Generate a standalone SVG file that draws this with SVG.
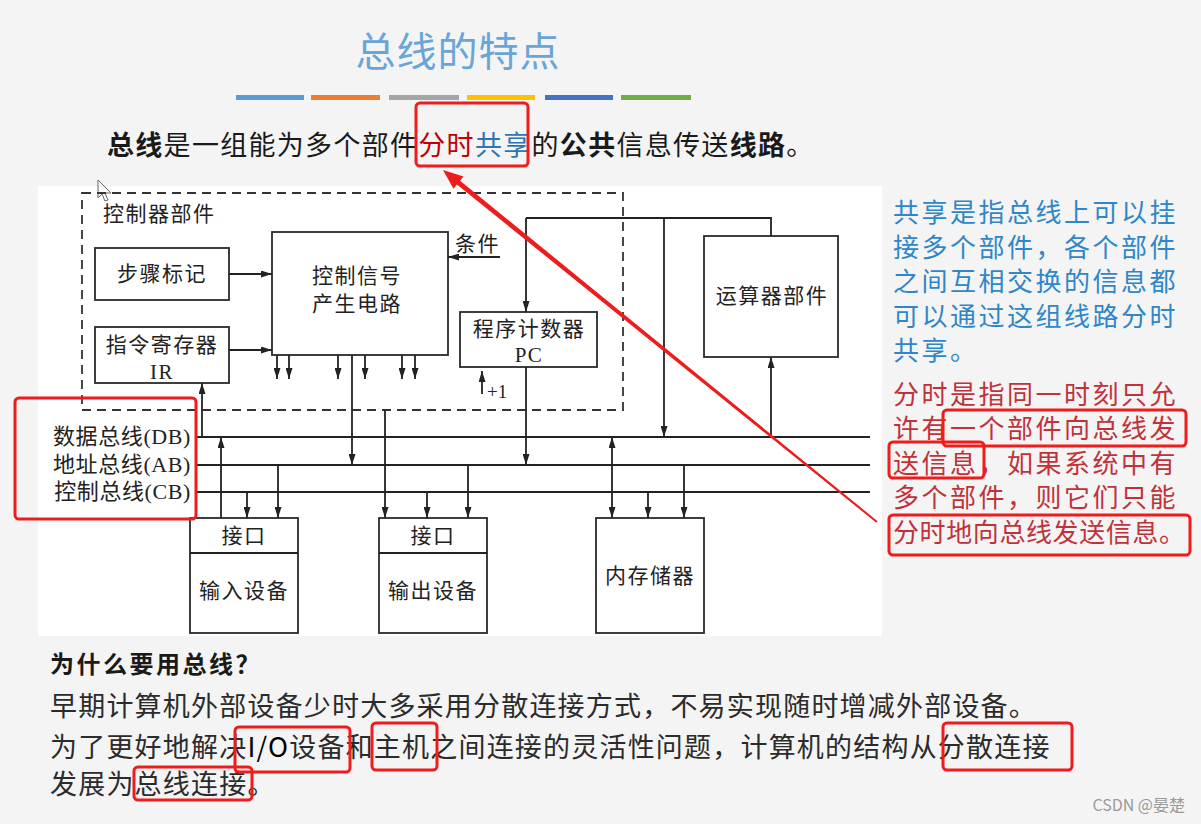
<svg xmlns="http://www.w3.org/2000/svg" width="1201" height="824" viewBox="0 0 1201 824">
<style>
.bx{fill:#fff;stroke:#2a2a2a;stroke-width:1.8}
.ln{stroke:#222;stroke-width:1.8;fill:none}
.bus{stroke:#222;stroke-width:2.2;fill:none}
.ar{marker-end:url(#ah)}
.dt{font-family:"Liberation Serif","Noto Sans CJK SC",serif;font-size:21px;fill:#222;letter-spacing:1.5px}
.rb{fill:none;stroke:#f01c1c;stroke-width:3}
.cn{font-family:"Noto Sans CJK SC","Liberation Sans",sans-serif}
.bt{font-family:"Noto Sans CJK SC","Liberation Sans",sans-serif;font-size:27px;fill:#2b2b2b;letter-spacing:1.2px}
.rt{font-family:"Noto Sans CJK SC","Liberation Sans",sans-serif;font-size:26px;letter-spacing:2.5px}
</style>
<defs>
<marker id="ah" markerWidth="11" markerHeight="7" refX="11" refY="3.5" orient="auto-start-reverse" markerUnits="userSpaceOnUse">
<path d="M0,0 L11,3.5 L0,7 Z" fill="#222"/>
</marker>
</defs>
<rect x="0" y="0" width="1201" height="824" fill="#f4f4f4"/>
<rect x="38" y="186" width="844" height="450" fill="#ffffff"/>

<g id="title">
<text x="458" y="66" text-anchor="middle" class="cn" font-size="40" fill="#6aa5d8" letter-spacing="1">总线的特点</text>
<rect x="236" y="95" width="68" height="5" fill="#5b9bd5"/>
<rect x="311" y="95" width="69" height="5" fill="#ed7d31"/>
<rect x="389" y="95" width="70" height="5" fill="#a5a5a5"/>
<rect x="467" y="95" width="68" height="5" fill="#ffc000"/>
<rect x="545" y="95" width="68" height="5" fill="#4472c4"/>
<rect x="621" y="95" width="70" height="5" fill="#70ad47"/>
</g>

<g id="definition">
<text x="107" y="155" class="cn" font-size="27" fill="#1a1a1a" letter-spacing="1.3"><tspan font-weight="bold">总线</tspan>是一组能为多个部件<tspan fill="#c00000">分时</tspan><tspan fill="#2e75b6">共享</tspan>的<tspan font-weight="bold">公共</tspan>信息传送<tspan font-weight="bold">线路</tspan>。</text>
<rect x="416" y="103" width="112" height="63" rx="4" class="rb"/>
</g>

<polygon points="98,180 98,198 102,194 105,201 108,200 105,193 111,193" fill="#fff" stroke="#666" stroke-width="1"/>

<g id="controller">
<rect x="82" y="193" width="541" height="217" fill="none" stroke="#333" stroke-width="1.8" stroke-dasharray="9,6"/>
<text x="103" y="221" class="dt">控制器部件</text>
</g>

<g id="step">
<rect x="95" y="248" width="134" height="52" class="bx"/>
<text x="162" y="281" text-anchor="middle" class="dt">步骤标记</text>
</g>
<g id="ir">
<rect x="95" y="327" width="134" height="56" class="bx"/>
<text x="162" y="352" text-anchor="middle" class="dt">指令寄存器</text>
<text x="162" y="379" text-anchor="middle" class="dt">IR</text>
</g>
<g id="ctrl">
<rect x="272" y="232" width="176" height="123" class="bx"/>
<text x="357" y="283" text-anchor="middle" class="dt">控制信号</text>
<text x="357" y="311" text-anchor="middle" class="dt">产生电路</text>
</g>
<g id="pc">
<rect x="460" y="312" width="137" height="55" class="bx"/>
<text x="529" y="336" text-anchor="middle" class="dt">程序计数器</text>
<text x="529" y="362" text-anchor="middle" class="dt">PC</text>
</g>
<g id="alu">
<rect x="704" y="236" width="134" height="121" class="bx"/>
<text x="772" y="303" text-anchor="middle" class="dt">运算器部件</text>
</g>
<g id="input">
<rect x="190" y="518" width="108" height="115" class="bx"/>
<line x1="190" y1="553" x2="298" y2="553" class="ln"/>
<text x="244" y="543" text-anchor="middle" class="dt">接口</text>
<text x="244" y="598" text-anchor="middle" class="dt">输入设备</text>
</g>
<g id="output">
<rect x="379" y="518" width="108" height="115" class="bx"/>
<line x1="379" y1="553" x2="487" y2="553" class="ln"/>
<text x="433" y="543" text-anchor="middle" class="dt">接口</text>
<text x="433" y="598" text-anchor="middle" class="dt">输出设备</text>
</g>
<g id="memory">
<rect x="596" y="518" width="108" height="115" class="bx"/>
<text x="650" y="583" text-anchor="middle" class="dt">内存储器</text>
</g>

<g id="buses">
<line x1="195" y1="437" x2="870" y2="437" class="bus"/>
<line x1="195" y1="465" x2="870" y2="465" class="bus"/>
<line x1="195" y1="492" x2="870" y2="492" class="bus"/>
<text x="191" y="444" text-anchor="end" class="dt" style="font-size:22px;letter-spacing:0.6px">数据总线(DB)</text>
<text x="191" y="472" text-anchor="end" class="dt" style="font-size:22px;letter-spacing:0.6px">地址总线(AB)</text>
<text x="191" y="499" text-anchor="end" class="dt" style="font-size:22px;letter-spacing:0.6px">控制总线(CB)</text>
<rect x="15" y="398" width="181" height="121" rx="4" class="rb"/>
</g>

<g id="connectors">
<path d="M229,274 H272" class="ln ar"/>
<path d="M229,350 H272" class="ln ar"/>
<path d="M500,257 H448" class="ln ar"/>
<text x="455" y="251" class="dt">条件</text>
<path d="M277,355 V379" class="ln ar"/>
<path d="M289,355 V379" class="ln ar"/>
<path d="M338,355 V379" class="ln ar"/>
<path d="M365,355 V379" class="ln ar"/>
<path d="M402,355 V379" class="ln ar"/>
<path d="M415,355 V379" class="ln ar"/>
<path d="M352,355 V465" class="ln ar"/>
<path d="M202,437 V383" class="ln ar"/>
<path d="M221,518 V437" class="ln ar"/>
<path d="M247,492 V518" class="ln ar"/>
<path d="M278,465 V518" class="ln ar"/>
<path d="M385,410 V518" class="ln ar"/>
<path d="M427,492 V518" class="ln ar"/>
<path d="M468,465 V518" class="ln ar"/>
<path d="M526,367 V465" class="ln ar"/>
<path d="M526,218 V312" class="ln ar"/>
<path d="M526,218 H771 V236" class="ln"/>
<path d="M664,218 V437" class="ln ar"/>
<path d="M771,437 V357" class="ln ar"/>
<path d="M482,394 V371" class="ln ar"/>
<text x="487" y="398" class="dt" style="font-size:19px;letter-spacing:0">+1</text>
<path d="M612,437 V518" class="ln ar" marker-start="url(#ah)"/>
<path d="M648,492 V518" class="ln ar"/>
<path d="M684,465 V518" class="ln ar"/>
</g>

<g id="notes">
<text class="rt" fill="#2f86c8">
<tspan x="893" y="222">共享是指总线上可以挂</tspan>
<tspan x="893" y="257">接多个部件，各个部件</tspan>
<tspan x="893" y="291">之间互相交换的信息都</tspan>
<tspan x="893" y="326">可以通过这组线路分时</tspan>
<tspan x="893" y="360">共享。</tspan>
</text>
<text class="rt" fill="#c0323a">
<tspan x="893" y="404">分时是指同一时刻只允</tspan>
<tspan x="893" y="438">许有一个部件向总线发</tspan>
<tspan x="893" y="473">送信息，如果系统中有</tspan>
<tspan x="893" y="507">多个部件，则它们只能</tspan>
</text>
<text x="893" y="542" class="rt" fill="#c0323a" style="letter-spacing:0.6px">分时地向总线发送信息。</text>
<rect x="943" y="410" width="243" height="36" rx="4" class="rb"/>
<rect x="889" y="442" width="95" height="36" rx="4" class="rb"/>
<rect x="889" y="515" width="301" height="40" rx="4" class="rb"/>
</g>

<polygon points="443,170 463.5,176.4 460.1,180.7 877.6,521.2 876.4,522.8 456.9,184.5 453.5,188.8" fill="#ee1c1c"/>

<g id="why">
<text x="50" y="673" class="cn" font-size="24" font-weight="bold" fill="#1a1a1a" letter-spacing="2.5">为什么要用总线？</text>
<text x="50" y="716" class="bt">早期计算机外部设备少时大多采用分散连接方式，不易实现随时增减外部设备。</text>
<text x="50" y="757" class="bt">为了更好地解决<tspan fill="#000">I/O</tspan>设备和主机之间连接的灵活性问题，计算机的结构从分散连接</text>
<text x="50" y="794" class="bt">发展为总线连接。</text>
<rect x="235" y="727" width="115" height="45" rx="4" class="rb"/>
<rect x="372" y="723" width="65" height="47" rx="4" class="rb"/>
<rect x="943" y="723" width="129" height="47" rx="4" class="rb"/>
<rect x="134" y="767" width="118" height="33" rx="4" class="rb"/>
</g>

<text x="1185" y="811" text-anchor="end" class="cn" font-size="16" fill="#9a9a9a">CSDN @晏楚</text>
</svg>
